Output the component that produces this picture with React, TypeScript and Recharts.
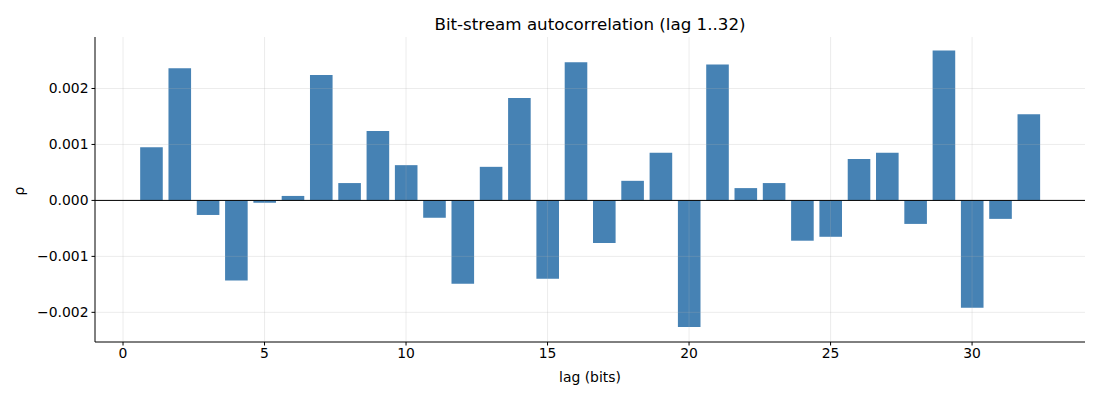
import {
  BarChart,
  Bar,
  XAxis,
  YAxis,
  ReferenceLine,
} from "recharts";

const lags = [
  1, 2, 3, 4, 5, 6, 7, 8, 9, 10, 11, 12, 13, 14, 15, 16,
  17, 18, 19, 20, 21, 22, 23, 24, 25, 26, 27, 28, 29, 30, 31, 32,
];

const rho = [
  0.00095, 0.00236, -0.00026, -0.00143, -0.00004, 0.00008, 0.00224, 0.00031,
  0.00124, 0.00063, -0.00031, -0.00149, 0.0006, 0.00183, -0.0014, 0.00247,
  -0.00076, 0.00035, 0.00085, -0.00226, 0.00243, 0.00022, 0.00031, -0.00072,
  -0.00065, 0.00074, 0.00085, -0.00042, 0.00268, -0.00192, -0.00033, 0.00154,
];

const xTicks = [0, 5, 10, 15, 20, 25, 30];
const yTicks = [-0.002, -0.001, 0, 0.001, 0.002];

const data = lags.map((lag, i) => ({ lag, rho: rho[i] }));

const font = "DejaVu Sans, sans-serif";

const fmtY = (v: number) => {
  const s = Math.abs(v).toFixed(3);
  return v < 0 ? `\u2212${s}` : s;
};

// matplotlib-style grid: drawn over the bars, faint
const gridStyle = { stroke: "#b0b0b0", strokeOpacity: 0.3, strokeWidth: 0.8 };

export default function App() {
  return (
    <div
      style={{
        position: "relative",
        width: 1100,
        height: 400,
        margin: -8,
        background: "#fff",
        fontFamily: font,
      }}
    >
      <div
        style={{
          position: "absolute",
          left: 95,
          width: 990,
          top: 14,
          textAlign: "center",
          fontSize: 16.7,
          color: "#000",
        }}
      >
        Bit-stream autocorrelation (lag 1..32)
      </div>
      <div
        style={{
          position: "absolute",
          left: 95,
          width: 990,
          top: 369,
          textAlign: "center",
          fontSize: 13.9,
          color: "#000",
        }}
      >
        lag (bits)
      </div>
      <div
        style={{
          position: "absolute",
          left: 9,
          top: 183,
          width: 20,
          textAlign: "center",
          fontSize: 13.9,
          transform: "rotate(-90deg)",
          color: "#000",
        }}
      >
        ρ
      </div>
      <BarChart
        width={1100}
        height={400}
        data={data}
        margin={{ top: 37, right: 15, bottom: 0, left: 0 }}
      >
        <XAxis
          dataKey="lag"
          type="number"
          domain={[-0.99, 33.99]}
          ticks={xTicks}
          allowDataOverflow
          height={58}
          stroke="#000"
          tickSize={3.5}
          tickMargin={3}
          tick={{ fill: "#000", fontSize: 13.9, fontFamily: font }}
        />
        <YAxis
          type="number"
          domain={[-0.00253, 0.00292]}
          ticks={yTicks}
          allowDataOverflow
          width={95}
          stroke="#000"
          tickSize={3.5}
          tickMargin={3}
          tickFormatter={fmtY}
          tick={{ fill: "#000", fontSize: 13.9, fontFamily: font }}
        />
        <Bar
          dataKey="rho"
          fill="#4682b4"
          barSize={22.6}
          isAnimationActive={false}
        />
        {xTicks.map((t) => (
          <ReferenceLine key={`gx${t}`} x={t} {...gridStyle} />
        ))}
        {yTicks.map((t) => (
          <ReferenceLine key={`gy${t}`} y={t} {...gridStyle} />
        ))}
        <ReferenceLine y={0} stroke="#000" strokeWidth={1} />
      </BarChart>
    </div>
  );
}
